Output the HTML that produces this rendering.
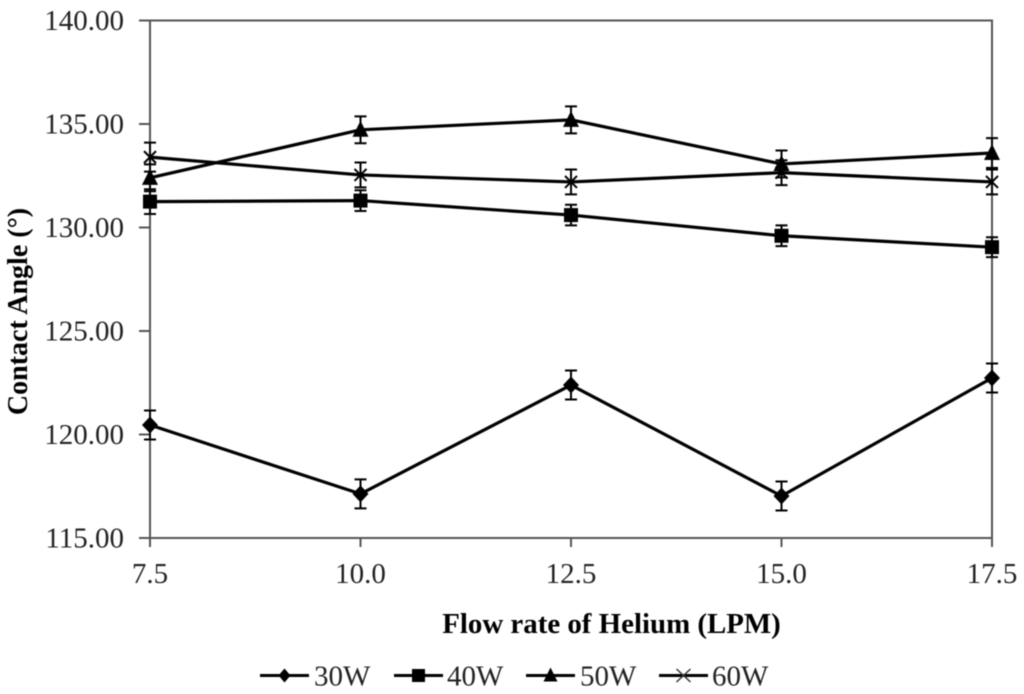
<!DOCTYPE html>
<html>
<head>
<meta charset="utf-8">
<style>
html,body{margin:0;padding:0;background:#fff;width:1024px;height:694px;overflow:hidden}
svg{display:block;filter:blur(0.6px)}
text{font-family:"Liberation Serif",serif}
</style>
</head>
<body>
<svg id="chart" width="1024" height="694" viewBox="0 0 1024 694" xmlns="http://www.w3.org/2000/svg"></svg>
<script>
const categories = ['7.5', '10.0', '12.5', '15.0', '17.5'];
const yTickValues = [115, 120, 125, 130, 135, 140];
const seriesNames = ['30W', '40W', '50W', '60W'];
const values30W = [120.46, 117.13, 122.39, 117.03, 122.73];
const values40W = [131.25, 131.30, 130.60, 129.60, 129.05];
const values50W = [132.40, 134.72, 135.20, 133.07, 133.60];
const values60W = [133.40, 132.54, 132.20, 132.65, 132.20];
const errors30W = [0.7, 0.7, 0.7, 0.7, 0.7];
const errors40W = [0.6, 0.5, 0.5, 0.5, 0.48];
const errors50W = [0.65, 0.65, 0.65, 0.65, 0.72];
const errors60W = [0.7, 0.6, 0.6, 0.6, 0.6];

const NS = 'http://www.w3.org/2000/svg';
const svg = document.getElementById('chart');
const plot = {left: 150, right: 992, top: 20.5, bottom: 538};
const xPos = i => plot.left + (plot.right - plot.left) * i / (categories.length - 1);
const yPos = v => plot.bottom - (v - 115) / 25 * (plot.bottom - plot.top);

function make(tag, attrs, parent) {
  const el = document.createElementNS(NS, tag);
  for (const k in attrs) el.setAttribute(k, attrs[k]);
  (parent || svg).appendChild(el);
  return el;
}
function drawMarker(kind, x, y, parent) {
  if (kind === 0) {
    make('polygon', {points: `${x},${y-8.5} ${x+8},${y} ${x},${y+8.5} ${x-8},${y}`, fill: '#000'}, parent);
  } else if (kind === 1) {
    make('rect', {x: x-7, y: y-7, width: 14, height: 14, fill: '#000'}, parent);
  } else if (kind === 2) {
    make('polygon', {points: `${x},${y-9} ${x+8},${y+7} ${x-8},${y+7}`, fill: '#000'}, parent);
  } else {
    make('path', {d: `M${x-6},${y-6}L${x+6},${y+6}M${x+6},${y-6}L${x-6},${y+6}`, stroke: '#000', 'stroke-width': 2, fill: 'none'}, parent);
  }
}

const frame = make('rect', {x: plot.left, y: plot.top, width: plot.right - plot.left, height: plot.bottom - plot.top, fill: 'none', stroke: '#555', 'stroke-width': 2});



yTickValues.forEach(v => {
  const tick = make('line', {x1: 139, x2: plot.left, y1: yPos(v), y2: yPos(v), stroke: '#555', 'stroke-width': 2});
  
  
  const label = make('text', {x: 124, y: yPos(v) + 9.5, 'text-anchor': 'end', 'font-size': 29, fill: '#222'});
  label.textContent = v.toFixed(2);
  
  
});

categories.forEach((c, i) => {
  const tick = make('line', {x1: xPos(i), x2: xPos(i), y1: plot.bottom, y2: 547, stroke: '#555', 'stroke-width': 2});
  
  
  const label = make('text', {x: xPos(i), y: 583, 'text-anchor': 'middle', 'font-size': 29, fill: '#222'});
  label.textContent = c;
  
  
});

const allValues = [values30W, values40W, values50W, values60W];
const allErrors = [errors30W, errors40W, errors50W, errors60W];
allValues.forEach((vals, s) => {
  const g = make('g', {});
  
  
  vals.forEach((v, i) => {
    const x = xPos(i), e = allErrors[s][i];
    make('path', {
      d: `M${x},${yPos(v+e)}V${yPos(v-e)}M${x-6},${yPos(v+e)}H${x+6}M${x-6},${yPos(v-e)}H${x+6}`,
      stroke: '#000', 'stroke-width': 2, fill: 'none'
    }, g);
  });
  make('polyline', {
    points: vals.map((v, i) => xPos(i) + ',' + yPos(v)).join(' '),
    fill: 'none', stroke: '#000', 'stroke-width': 3.2, 'stroke-linejoin': 'round'
  }, g);
  vals.forEach((v, i) => drawMarker(s, xPos(i), yPos(v), g));
});

const legendLineStarts = [260, 394, 526, 659];
const legendTextStarts = [314, 447, 580, 712];
seriesNames.forEach((name, s) => {
  const g = make('g', {});
  
  
  const x0 = legendLineStarts[s];
  make('line', {x1: x0, x2: x0 + 49, y1: 675.5, y2: 675.5, stroke: '#000', 'stroke-width': 3}, g);
  const kx = x0 + 24.5, ky = 675.5;
  if (s === 3) {
    make('path', {d: `M${kx-7},${ky-6.5}L${kx+7},${ky+6.5}M${kx+7},${ky-6.5}L${kx-7},${ky+6.5}`, stroke: '#333', 'stroke-width': 1.5, fill: 'none'}, g);
  } else {
    if (s === 0) make('polygon', {points: `${kx},${ky-7} ${kx+6},${ky} ${kx},${ky+7} ${kx-6},${ky}`, fill: '#000'}, g);
    if (s === 1) make('rect', {x: kx-6.5, y: ky-6.5, width: 13, height: 13, fill: '#000'}, g);
    if (s === 2) make('polygon', {points: `${kx},${ky-8} ${kx+7},${ky+6} ${kx-7},${ky+6}`, fill: '#000'}, g);
  }
  const t = make('text', {x: legendTextStarts[s], y: 685.5, 'font-size': 29, fill: '#222'}, g);
  t.textContent = name;
});
</script>
<svg style="position:absolute;left:0;top:0" width="1024" height="694" viewBox="0 0 1024 694" xmlns="http://www.w3.org/2000/svg">
  <text x="611.5" y="633" text-anchor="middle" font-size="28.9" font-weight="bold" fill="#000">Flow rate of Helium (LPM)</text>
  <text transform="translate(27,311.5) rotate(-90)" text-anchor="middle" font-size="28" font-weight="bold" fill="#000">Contact Angle (°)</text>
</svg>
</body>
</html>
